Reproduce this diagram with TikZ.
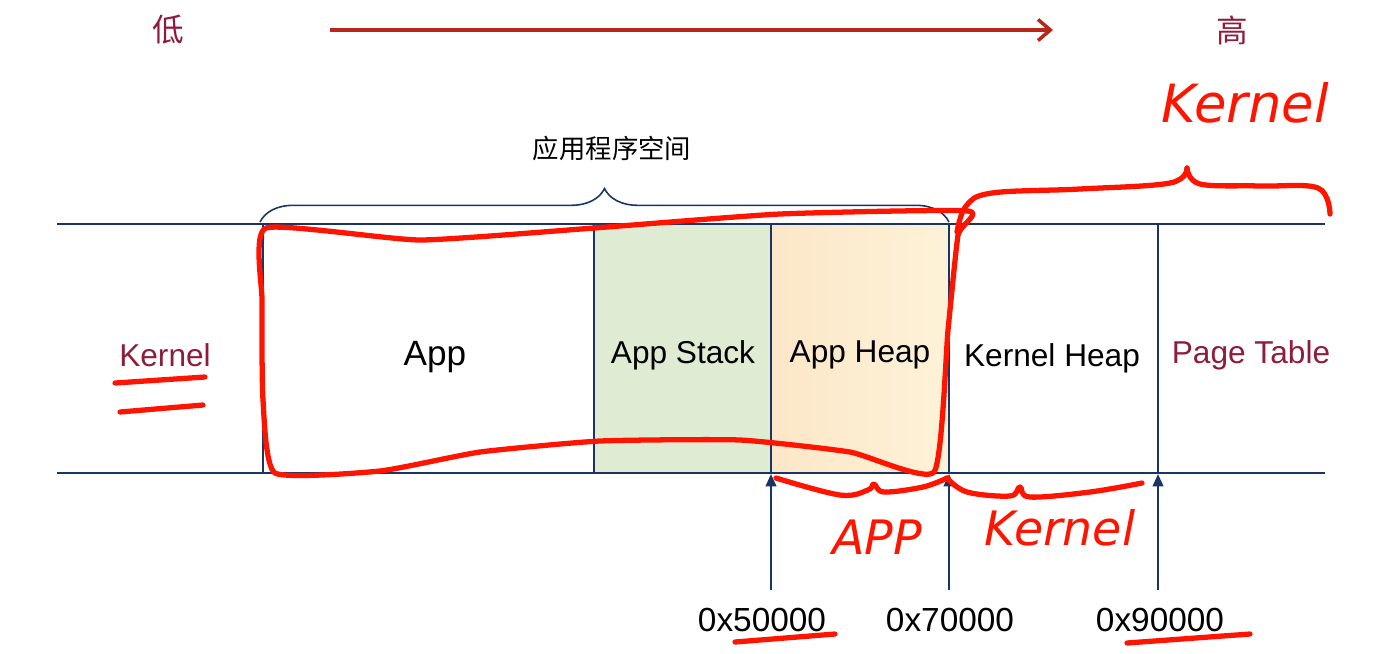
\documentclass[tikz,border=0pt]{standalone}
\usepackage{fontspec}
\setmainfont{Liberation Sans}
\newfontfamily\cjk{Noto Sans CJK SC}
\newfontfamily\hand{DejaVu Sans}
\usetikzlibrary{arrows.meta,decorations.pathreplacing,positioning}

\definecolor{navy}{HTML}{1A3563}
\definecolor{wine}{HTML}{8E1C3E}
\definecolor{arrowred}{HTML}{B8281A}
\definecolor{ink}{HTML}{FF1400}
\definecolor{stackgreen}{HTML}{DFEBD3}
\definecolor{heapl}{HTML}{FCE7C8}
\definecolor{heapr}{HTML}{FDF2D8}

\begin{document}
\begin{tikzpicture}[
  x=0.02cm,y=-0.02cm,
  rule/.style={navy,line width=1.2pt},
  cell/.style={font=\fontsize{18}{20}\selectfont},
  addr/.style={font=\fontsize{19}{21}\selectfont},
  addrarrow/.style={navy,line width=1.2pt,-{Triangle[length=7pt,width=6pt]}},
  scribble/.style={ink,line width=3pt,line cap=round,line join=round},
  hw/.style={ink,font=\hand\itshape\fontsize{30}{30}\selectfont}
]
  \useasboundingbox (0,0) rectangle (1392,653);

  % direction: low -> high
  \node[wine,font=\cjk\fontsize{18}{20}\selectfont] (low) at (168,30) {低};
  \node[wine,font=\cjk\fontsize{18}{20}\selectfont] (high) at (1232,30) {高};
  \coordinate (dirstart) at (330,30);
  \coordinate (dirend) at (1053,30);
  \draw[arrowred,line width=2pt,-{Straight Barb[length=7pt,width=12pt]}] (dirstart) -- (dirend);

  % memory strip
  \fill[stackgreen] (594,224) rectangle (771,473);
  \shade[left color=heapl,right color=heapr] (771,224) rectangle (949,473);
  \draw[rule] (57,224) -- (1325,224);
  \draw[rule] (57,473) -- (1325,473);
  \foreach \x in {263,594,771,949,1158}
    \draw[rule] (\x,224) -- (\x,473);

  \node[cell,text=wine] (kern) at (165,355) {Kernel};
  \node[font=\fontsize{20}{22}\selectfont] (app) at (435,357) {App};
  \node[cell] (stack) at (683,355) {App Stack};
  \node[cell] (heap) at (860,355) {App Heap};
  \node[cell] (kheap) at (1052,358) {Kernel Heap};
  \node[cell,text=wine] (ptable) at (1251,355) {Page Table};

  % app space brace
  \coordinate (bl) at (260,222);
  \coordinate (br) at (949,222);
  \draw[navy,line width=0.9pt,decorate,decoration={brace,amplitude=19pt}] (bl) -- (br);
  \node[font=\cjk\fontsize{15}{17}\selectfont] (appspace) at (612,148) {应用程序空间};

  % addresses
  \foreach \n/\x/\lx in {50/771/762,70/949/950,90/1158/1160}{
    \coordinate (f\n) at (\x,590);
    \coordinate (b\n) at (\x,474);
    \draw[addrarrow] (f\n) -- (b\n);
    \node[addr] (a\n) at (\lx,620) {0x\n000};
  }

  % red hand annotations
  \draw[scribble] plot[smooth cycle,tension=0.3] coordinates {
    (266,228) (420,240) (594,228) (780,214) (968,211) (958,235)
    (948,330) (934,472) (850,452) (740,440) (600,441) (480,452)
    (380,471) (275,473) (263,400) (262,300)};
  \draw[scribble] plot[smooth,tension=0.6] coordinates {
    (957,232) (966,206) (992,193) (1080,189) (1170,183) (1187,168)};
  \draw[scribble] plot[smooth,tension=0.6] coordinates {
    (1187,168) (1200,184) (1260,186) (1318,188) (1330,214)};
  \node[hw,font=\hand\itshape\fontsize{30}{30}\selectfont] (hwtop) at (1245,103) {Kernel};

  \draw[scribble] (115,383) -- (205,377);
  \draw[scribble] (120,412) -- (203,405);

  \draw[scribble] plot[smooth,tension=0.6] coordinates {
    (776,478) (840,495) (868,490) (874,484) (884,492) (923,487) (947,478)};
  \draw[scribble] plot[smooth,tension=0.6] coordinates {
    (947,478) (967,492) (1010,496) (1020,487) (1030,497) (1090,492) (1142,483)};
  \node[hw,font=\hand\itshape\fontsize{27}{27}\selectfont] (hwapp) at (877,537) {APP};
  \node[hw,font=\hand\itshape\fontsize{27}{27}\selectfont] (hwkern) at (1060,528) {Kernel};

  \draw[scribble] (735,642) -- (835,634);
  \draw[scribble] (1127,643) -- (1250,634);
\end{tikzpicture}
\end{document}
